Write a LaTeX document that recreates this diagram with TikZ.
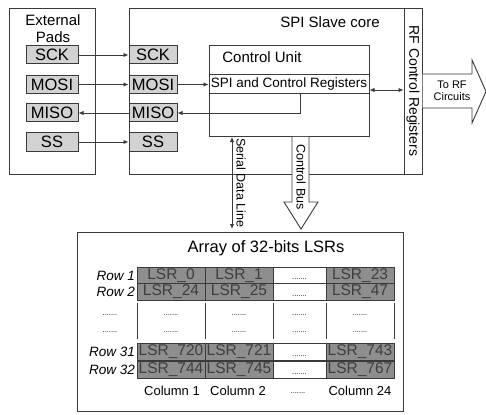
\documentclass[tikz,border=0pt]{standalone}
\usepackage{fontspec}
\setmainfont{Liberation Sans}
\usepackage{xcolor}
\usetikzlibrary{positioning,arrows.meta,calc}
\definecolor{PadGray}{HTML}{D2D2D2}
\definecolor{CellGray}{HTML}{8E8E8E}
\definecolor{CellText}{HTML}{3E3E3E}
\definecolor{EdgeGray}{HTML}{3A3A3A}

\tikzset{
  box/.style={draw=EdgeGray, line width=1pt, inner sep=0pt},
  pad/.style={box, fill=PadGray, minimum width=52pt, minimum height=18pt,
    font=\fontsize{16.5}{16.5}\selectfont},
  corepad/.style={pad, minimum width=48pt},
  lsrcell/.style={box, fill=CellGray, text=CellText, minimum width=68pt,
    minimum height=17pt, font=\fontsize{15.5}{15.5}\selectfont},
  gapcell/.style={box, fill=white, minimum width=53pt, minimum height=17pt},
  sig/.style={draw=EdgeGray, line width=0.9pt, -{Latex[length=5pt,width=4.5pt]}},
  bisig/.style={sig, {Latex[length=5pt,width=4.5pt]}-{Latex[length=5pt,width=4.5pt]}},
  hollow/.style={draw=EdgeGray, line width=0.9pt, fill=white},
  rowlbl/.style={anchor=east, inner sep=1pt, font=\fontsize{13.5}{13.5}\selectfont\itshape},
  dotlbl/.style={inner sep=0pt, font=\fontsize{7.5}{7.5}\selectfont},
  collbl/.style={font=\fontsize{13}{13}\selectfont},
}

\begin{document}
\begin{tikzpicture}[x=1pt,y=-1pt]
  \useasboundingbox (0,0) rectangle (486,414);

  % outer blocks
  \node[box, minimum width=86pt, minimum height=165pt] (ext) at (52,91.5) {};
  \node[align=center, font=\fontsize{15}{17}\selectfont] (extlbl) at (53,28.5) {External\\Pads};
  \node[box, minimum width=293pt, minimum height=165pt] (core) at (275.5,91.5) {};
  \node[font=\fontsize{15}{15}\selectfont] (corelbl) at (330,22) {SPI Slave core};
  \node[box, minimum width=18pt, minimum height=165pt] (rf) at (413,91.5) {};
  \node[rotate=-90, font=\fontsize{14}{14}\selectfont] (rflbl) at (413,91) {RF Control Registers};

  % control unit
  \node[box, minimum width=160pt, minimum height=91pt] (cu) at (289,91.5) {};
  \node[font=\fontsize{15}{15}\selectfont] (culbl) at (262,57) {Control Unit};
  \node[box, minimum width=160pt, minimum height=19pt,
    font=\fontsize{13.5}{13.5}\selectfont] (spireg) at (289,84.5) {SPI and Control Registers};

  % pads
  \foreach \p/\y in {SCK/55,MOSI/84.5,MISO/113,SS/142}{
    \node[pad] (e\p) at (52,\y) {\p};
    \node[corepad] (c\p) at (153,\y) {\p};
  }
  \draw[sig] (eSCK) -- (cSCK);
  \draw[sig] (eMOSI) -- (cMOSI);
  \draw[sig] (cMISO) -- (eMISO);
  \draw[sig] (eSS) -- (cSS);
  \draw[sig] (cMOSI) -- (spireg);
  \draw[sig] (spireg.south -| 300,0) |- (cMISO);
  \draw[bisig] (spireg.east |- 0,90) -- (rf.west |- 0,90);

  % to RF circuits
  \draw[hollow] (rf.east |- 0,74) -- (472,74) -- (472,60) -- (486,91.5)
    -- (472,123) -- (472,108) -- (rf.east |- 0,108);
  \node[align=center, font=\fontsize{11}{12.5}\selectfont] (rfout) at (452,91) {To RF\\Circuits};

  % array of LSRs
  \node[box, minimum width=326pt, minimum height=179pt] (arr) at (240,321.5) {};
  \node[font=\fontsize{16.5}{16.5}\selectfont] (arrlbl) at (266,248) {Array of 32-bits LSRs};

  % serial data line and control bus
  \coordinate (sdltop) at (232,137);
  \coordinate (sdlbot) at (232,229);
  \draw[bisig] (sdltop) -- (sdlbot);
  \node[rotate=-90, font=\fontsize{12.5}{12.5}\selectfont] (sdllbl) at (241,183) {Serial Data Line};
  \draw[hollow] (292,137) -- (292,202) -- (284,202) -- (301,229) -- (318,202)
    -- (309,202) -- (309,137);
  \node[rotate=-90, font=\fontsize{12.5}{12.5}\selectfont] (cblbl) at (301,177) {Control Bus};

  % cells
  \foreach \r/\y/\a/\b/\c in {1/275.5/0/1/23, 2/292/24/25/47,
      31/352/720/721/743, 32/370/744/745/767}{
    \node[rowlbl] (row\r) at (136,\y) {Row \r};
    \node[lsrcell] (l\r a) at (171,\y) {LSR\_\a};
    \node[lsrcell] (l\r b) at (239,\y) {LSR\_\b};
    \node[gapcell] (l\r g) at (299.5,\y) {};
    \node[dotlbl] at ($(l\r g)+(0,4)$) {.......};
    \node[lsrcell] (l\r c) at (360,\y) {LSR\_\c};
  }
  \foreach \x in {137,205,273,326,394}
    \draw[EdgeGray, line width=1pt] (\x,303) -- (\x,339);
  \foreach \x in {110,171,239,299.5,360}
    \foreach \y in {315,332}
      \node[dotlbl] at (\x,\y) {.......};
  \node[collbl] (col1) at (172,391) {Column 1};
  \node[collbl] (col2) at (238,391) {Column 2};
  \node[dotlbl] (colg) at (298,393) {.......};
  \node[collbl] (col24) at (360,391) {Column 24};
\end{tikzpicture}
\end{document}
